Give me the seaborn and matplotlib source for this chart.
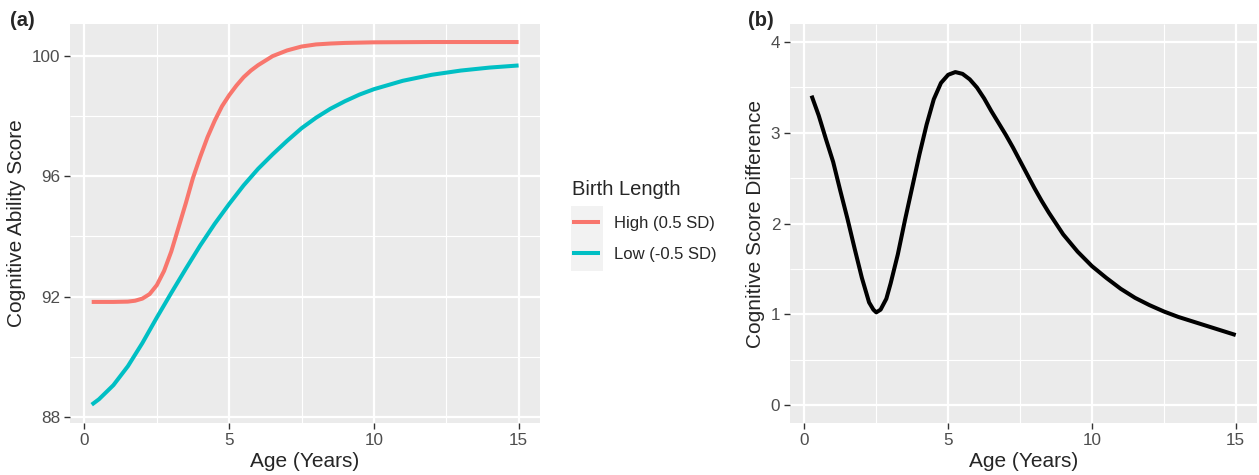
import matplotlib
matplotlib.use("Agg")
from matplotlib import pyplot as plt
from matplotlib.lines import Line2D
from matplotlib.patches import Rectangle
from matplotlib.ticker import MultipleLocator
import numpy as np
import pandas as pd
import seaborn as sns

# Panel (a): predicted cognitive ability score by birth length group
age_high = [0.25, 1, 1.5, 1.75, 2, 2.25, 2.5, 2.75, 3, 3.25, 3.5, 3.75, 4, 4.25, 4.5, 4.75,
            5, 5.25, 5.5, 5.75, 6, 6.5, 7, 7.5, 8, 8.5, 9, 10, 12, 15]
score_high = [91.82, 91.82, 91.83, 91.86, 91.93, 92.08, 92.38, 92.85, 93.5, 94.3, 95.1, 95.95, 96.65, 97.3, 97.85, 98.33,
              98.7, 99.02, 99.3, 99.52, 99.7, 100.0, 100.19, 100.32, 100.39, 100.42, 100.44, 100.46, 100.47, 100.47]
age_low = [0.25, 0.5, 1, 1.5, 2, 2.5, 3, 3.5, 4, 4.5, 5, 5.5, 6, 6.5, 7, 7.5, 8, 8.5, 9, 9.5,
           10, 11, 12, 13, 14, 15]
score_low = [88.4, 88.58, 89.05, 89.68, 90.45, 91.3, 92.12, 92.92, 93.7, 94.42, 95.08, 95.7, 96.25, 96.73, 97.18, 97.6,
             97.95, 98.25, 98.5, 98.72, 98.9, 99.18, 99.38, 99.52, 99.62, 99.69]
groups = ["High (0.5 SD)", "Low (-0.5 SD)"]
group_colors = ["#F8766D", "#00BFC4"]

# Panel (b): difference between the two groups
age_diff = [0.25, 0.5, 0.75, 1, 1.25, 1.5, 1.75, 2, 2.25, 2.4, 2.5, 2.65, 2.85, 3, 3.25, 3.5, 3.75,
            4, 4.25, 4.5, 4.75, 5, 5.25, 5.5, 5.75, 6, 6.25, 6.5, 6.75, 7, 7.25, 7.5, 7.75, 8, 8.25,
            8.5, 8.75, 9, 9.5, 10, 10.5, 11, 11.5, 12, 12.5, 13, 13.5, 14, 14.5, 15]
score_diff = [3.41, 3.19, 2.93, 2.68, 2.36, 2.05, 1.72, 1.4, 1.13, 1.05, 1.02, 1.05, 1.17, 1.34, 1.66, 2.04, 2.4,
              2.76, 3.09, 3.37, 3.55, 3.64, 3.67, 3.65, 3.59, 3.5, 3.38, 3.24, 3.11, 2.98, 2.84, 2.69, 2.54, 2.39, 2.25,
              2.12, 2.0, 1.88, 1.69, 1.53, 1.4, 1.28, 1.18, 1.1, 1.03, 0.97, 0.92, 0.87, 0.82, 0.77]

df_a = pd.concat([
    pd.DataFrame({"age": age_high, "score": score_high, "group": groups[0]}),
    pd.DataFrame({"age": age_low, "score": score_low, "group": groups[1]}),
])
df_b = pd.DataFrame({"age": age_diff, "diff": score_diff})

sns.set_theme(style="darkgrid")
plt.rcParams["font.family"] = ["Liberation Sans", "DejaVu Sans"]
plt.rcParams["lines.solid_joinstyle"] = "round"
plt.rcParams["lines.solid_capstyle"] = "butt"

W, H = 1259, 475
fig = plt.figure(figsize=(W / 100, H / 100), dpi=100)
ax1 = fig.add_axes([70 / W, 1 - 423 / H, 470 / W, 399 / H])
ax2 = fig.add_axes([790 / W, 1 - 423 / H, 467 / W, 399 / H])


def gg_style(ax):
    ax.set_facecolor("#EBEBEB")
    for s in ax.spines.values():
        s.set_visible(False)
    ax.xaxis.set_minor_locator(MultipleLocator(2.5))
    ax.grid(which="major", color="white", linewidth=1.6)
    ax.grid(which="minor", color="white", linewidth=0.8)
    ax.tick_params(which="major", length=4, width=1, color="#333333",
                   labelsize=12.3, labelcolor="#4D4D4D", pad=3,
                   bottom=True, left=True)
    ax.tick_params(which="minor", length=0)
    ax.set_axisbelow(True)


sns.lineplot(data=df_a, x="age", y="score", hue="group", palette=group_colors,
             linewidth=2.9, ax=ax1, legend=False)
gg_style(ax1)
ax1.set_xlim(-0.5, 15.74)
ax1.set_ylim(87.79, 101.07)
ax1.set_xticks([0, 5, 10, 15])
ax1.set_yticks([88, 92, 96, 100])
ax1.yaxis.set_minor_locator(MultipleLocator(2))
ax1.set_xlabel("Age (Years)", fontsize=15, labelpad=3)
ax1.set_ylabel("Cognitive Ability Score", fontsize=15, labelpad=4)

sns.lineplot(data=df_b, x="age", y="diff", color="black", linewidth=2.9, ax=ax2)
gg_style(ax2)
ax2.set_xlim(-0.5, 15.74)
ax2.set_ylim(-0.2, 4.2)
ax2.set_xticks([0, 5, 10, 15])
ax2.set_yticks([0, 1, 2, 3, 4])
ax2.yaxis.set_minor_locator(MultipleLocator(0.5))
ax2.set_xlabel("Age (Years)", fontsize=15, labelpad=3)
ax2.set_ylabel("Cognitive Score Difference", fontsize=15, labelpad=4)

# legend key background (ggplot grey95)
fig.patches.append(Rectangle((571 / W, 1 - 271 / H), 32 / W, 65 / H,
                             transform=fig.transFigure, facecolor="#F2F2F2",
                             edgecolor="none", zorder=0))
handles = [Line2D([], [], color=c, linewidth=2.9) for c in group_colors]
leg = fig.legend(handles, groups, title="Birth Length", loc="upper left",
                 bbox_to_anchor=(557 / W, 1 - 165 / H), frameon=False, fontsize=12,
                 title_fontsize=14.5, handlelength=1.65, handletextpad=0.85,
                 labelspacing=1.0)
leg._legend_box.align = "left"

fig.text(10 / W, 1 - 11 / H, "(a)", fontsize=14.5, fontweight="bold", va="top")
fig.text(748 / W, 1 - 11 / H, "(b)", fontsize=14.5, fontweight="bold", va="top")

fig.savefig("out.png", dpi=100)
